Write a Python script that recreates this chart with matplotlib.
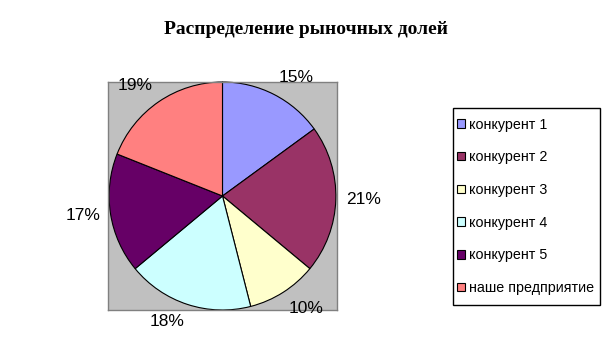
import matplotlib
matplotlib.use("Agg")
import matplotlib.pyplot as plt
from matplotlib.patches import Rectangle
import numpy as np

title = "Распределение рыночных долей"
labels = ["конкурент 1", "конкурент 2", "конкурент 3", "конкурент 4",
          "конкурент 5", "наше предприятие"]
shares = [15, 21, 10, 18, 17, 19]
colors = ["#9999FF", "#993366", "#FFFFCC", "#CCFFFF", "#660066", "#FF8080"]

W, H = 612, 348
fig = plt.figure(figsize=(W / 100, H / 100), dpi=100)

# gray plot area, in pixels: x 108..337, y 82..310
ax = fig.add_axes([108 / W, (H - 310) / H, 229 / W, 228 / H])
ax.set_facecolor("#C0C0C0")
for s in ax.spines.values():
    s.set_edgecolor("#808080")
    s.set_linewidth(1)
ax.set_xticks([])
ax.set_yticks([])

wedges, texts = ax.pie(
    shares, colors=colors, startangle=90, counterclock=False,
    labels=[f"{v}%" for v in shares], labeldistance=1.09,
    wedgeprops=dict(edgecolor="black", linewidth=0.8),
    textprops=dict(fontsize=12.5, family="Liberation Sans", color="black"),
    frame=True,
)
# excel-like label placement: box corner sits next to the pie edge
for w, t in zip(wedges, texts):
    ang = np.deg2rad((w.theta1 + w.theta2) / 2)
    c, s = np.cos(ang), np.sin(ang)
    t.set_horizontalalignment("left" if c > 0 else "right")
    if abs(s) < 0.3:
        t.set_verticalalignment("center")
    else:
        t.set_verticalalignment("bottom" if s > 0 else "top")
ax.set_aspect("auto")
ax.set_xlim(-1.01, 1.01)
ax.set_ylim(-1.0, 1.0)

fig.text(306 / W, 1 - 30 / H, title, ha="center", va="center",
         fontsize=14, fontweight="bold", family="Liberation Serif")

# legend frame: x 453..600, y 108..305
fig.patches.append(Rectangle((453 / W, 1 - 305 / H), 147 / W, 197 / H,
                             transform=fig.transFigure, fill=False,
                             edgecolor="black", linewidth=1))
leg = fig.legend(wedges, labels, loc="upper left",
                 bbox_to_anchor=(457 / W, 1 - 117.5 / H),
                 prop=dict(family="Liberation Sans", size=10.3),
                 frameon=False,
                 handlelength=0.55, handleheight=0.55, handletextpad=0.3,
                 labelspacing=1.31, borderpad=0, borderaxespad=0)

fig.savefig("out.png", dpi=100)
